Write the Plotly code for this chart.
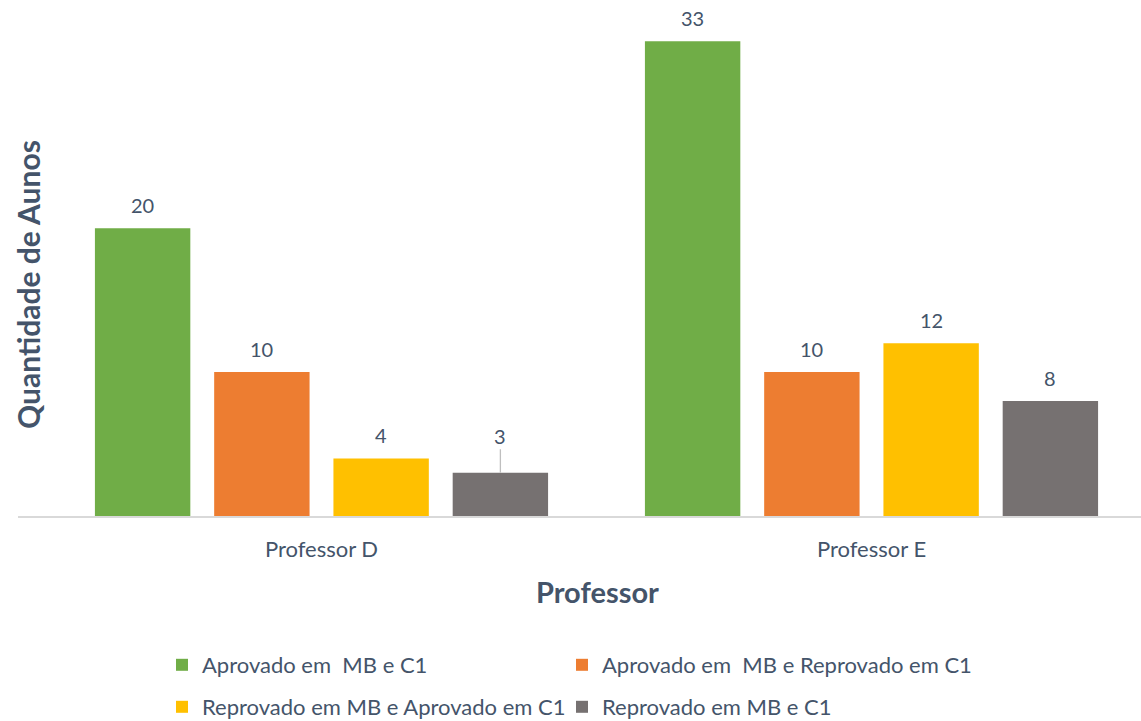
import plotly.graph_objects as go

categories = ["Professor D", "Professor E"]
series_names = [
    "Aprovado em  MB e C1",
    "Aprovado em  MB e Reprovado em C1",
    "Reprovado em MB e Aprovado em C1",
    "Reprovado em MB e C1",
]
aprov_mb_c1 = [20, 33]
aprov_mb_reprov_c1 = [10, 10]
reprov_mb_aprov_c1 = [4, 12]
reprov_mb_c1 = [3, 8]
colors = ["#70AD47", "#ED7D31", "#FFC000", "#767171"]

values = [aprov_mb_c1, aprov_mb_reprov_c1, reprov_mb_aprov_c1, reprov_mb_c1]
legend_ids = ["legend", "legend2", "legend3", "legend4"]
legend_pos = [(162, 665), (562, 665), (162, 707), (562, 707)]

FONT = "Lato"
TXT = "#44546A"

W, H = 1141, 721
L, R, T, B = 18, 0, 10, 205
plot_w = W - L - R
px_per_cat = 550.0
x0 = 0 - (321.5 - L) / px_per_cat
x1 = 1 + (W - R - 871.5) / px_per_cat
ymax = (H - B - T) / 14.39
bargap, bargroupgap = 0.1327, 0.2
slot = px_per_cat * (1 - bargap) / 4

fig = go.Figure()
for i, (name, vals) in enumerate(zip(series_names, values)):
    fig.add_trace(go.Bar(
        x=categories, y=vals, name=name,
        marker=dict(color=colors[i], line=dict(width=0)),
        legend=legend_ids[i],
    ))
    for j, (cat, v) in enumerate(zip(categories, vals)):
        if i == 3 and j == 0:
            fig.add_annotation(
                x=cat, y=v, xref="x", yref="y", text=str(v),
                showarrow=True, arrowhead=0, arrowwidth=1.3, arrowcolor="#BFBFBF",
                ax=0, ay=-37, standoff=0, xshift=(i - 1.5) * slot,
                font=dict(family=FONT, size=20, color=TXT),
            )
        else:
            fig.add_annotation(
                x=cat, y=v, xref="x", yref="y", text=str(v), showarrow=False,
                xshift=(i - 1.5) * slot, yshift=23, yanchor="middle",
                font=dict(family=FONT, size=20, color=TXT),
            )

fig.add_annotation(
    text="Quantidade de Aunos", textangle=-90, xref="paper", yref="paper",
    x=(28 - L) / plot_w, y=(H - B - 285) / (H - B - T), xanchor="center", yanchor="middle",
    showarrow=False, font=dict(family=FONT, size=30, color=TXT, weight="bold"),
)
fig.add_annotation(
    text="Professor", xref="paper", yref="paper",
    x=(597 - L) / plot_w, y=-(591 - (H - B)) / (H - B - T), xanchor="center", yanchor="middle",
    showarrow=False, font=dict(family=FONT, size=29, color=TXT, weight="bold"),
)

legend_cfg = {}
for lid, (lx, ly) in zip(legend_ids, legend_pos):
    legend_cfg[lid] = dict(
        orientation="h", xref="container", yref="container",
        x=lx / W, y=1 - ly / H, xanchor="left", yanchor="middle",
        itemwidth=30, bgcolor="rgba(0,0,0,0)",
        font=dict(family=FONT, size=22, color=TXT),
    )

fig.update_layout(
    width=W, height=H,
    margin=dict(l=L, r=R, t=T, b=B),
    paper_bgcolor="white", plot_bgcolor="white",
    barmode="group", bargap=bargap, bargroupgap=bargroupgap,
    font=dict(family=FONT, color=TXT),
    xaxis=dict(range=[x0, x1], showgrid=False, showline=True, linecolor="#D9D9D9",
               linewidth=1.5, ticks="", tickfont=dict(family=FONT, size=22, color=TXT),
               ticklabelstandoff=13),
    yaxis=dict(range=[0, ymax], visible=False),
    showlegend=True,
    **legend_cfg,
)

fig.write_html("out.html")
